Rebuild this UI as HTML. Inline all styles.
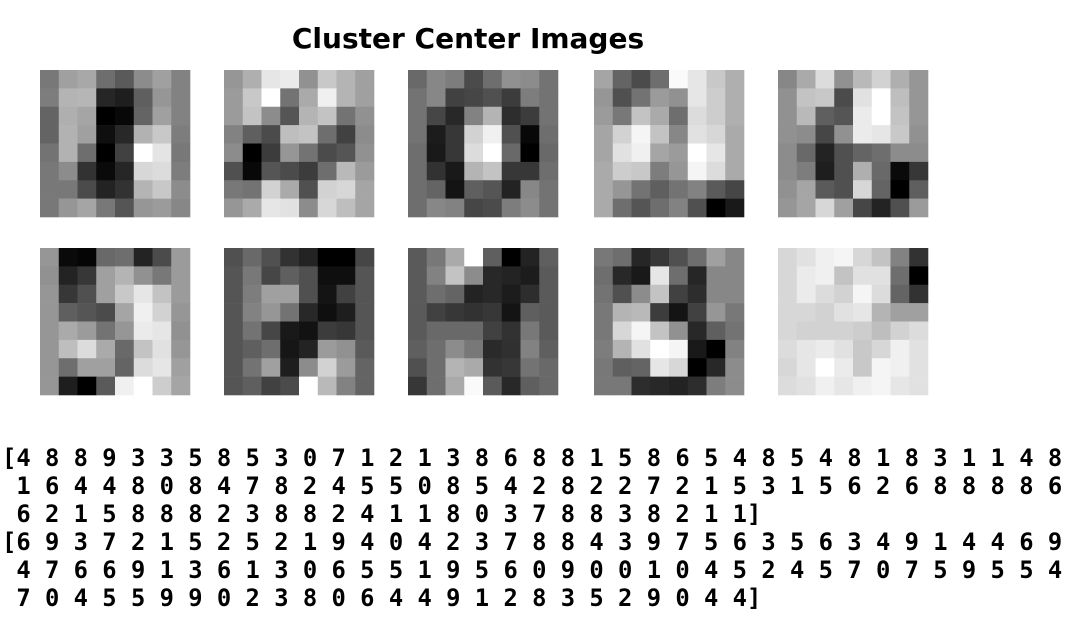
<!DOCTYPE html>
<html><head><meta charset="utf-8"><style>
html,body{margin:0;padding:0;background:#fff;}
svg{display:block;}
text.lbl{font-family:"DejaVu Sans Mono","Liberation Mono",monospace;font-weight:bold;font-size:23.8px;white-space:pre;fill:#000;}
</style></head><body>
<svg id="chart" width="1078" height="632" viewBox="0 0 1078 632">
<text x="468" y="48" text-anchor="middle" font-family="DejaVu Sans, Liberation Sans, sans-serif" font-weight="bold" font-size="28">Cluster Center Images</text>
<g id="imgs"></g>
<g id="labels"></g>
</svg>
<script>
const img0=[120,160,168,110,90,140,160,130,125,180,182,38,30,95,150,130,100,175,165,0,8,100,160,130,100,178,160,15,40,178,200,125,115,178,110,0,65,255,228,120,120,140,50,10,38,215,220,125,120,120,75,35,50,180,200,140,120,150,165,120,85,150,155,135];
const img1=[150,175,230,235,145,200,180,160,155,200,255,115,170,240,180,160,155,195,140,85,180,195,115,145,130,95,75,190,195,110,65,140,140,0,60,150,115,75,85,145,80,8,85,75,60,110,185,155,120,115,210,170,80,210,215,165,150,170,230,225,140,215,190,165];
const img2=[105,135,125,75,110,145,140,115,115,135,65,70,80,60,125,115,115,70,40,130,180,45,60,115,115,28,55,210,240,80,8,110,110,25,55,220,255,105,0,105,110,50,25,180,195,55,55,110,110,100,20,95,85,35,135,115,110,135,130,70,75,125,140,115];
const img3=[165,100,75,110,250,230,200,175,150,80,115,155,145,230,205,175,155,120,195,170,110,220,205,175,165,210,245,195,135,225,215,170,165,225,240,165,155,255,230,170,170,205,200,125,150,245,220,170,170,150,115,95,115,130,90,70,170,110,85,110,130,80,0,25];
const img4=[135,170,220,145,185,210,175,150,145,195,200,75,225,255,190,150,145,185,95,85,235,255,195,150,145,140,70,145,235,230,200,145,140,105,35,80,100,110,140,140,140,125,30,80,175,105,10,55,145,165,90,80,215,100,0,95,150,165,215,160,70,35,80,155];
const img5=[150,10,5,105,110,35,75,155,145,35,55,160,180,145,120,155,150,55,80,160,200,230,195,155,150,95,85,75,165,240,210,150,150,170,155,115,150,235,230,145,150,190,220,170,105,195,225,150,150,110,160,160,100,220,230,160,150,30,0,90,240,255,205,165];
const img6=[80,105,80,50,35,0,0,70,85,120,70,95,80,15,15,85,85,125,160,160,80,20,65,85,85,130,150,115,40,15,30,85,85,115,70,25,18,60,55,85,85,95,110,22,35,155,145,90,85,115,160,30,140,210,155,100,85,95,65,75,255,185,130,100];
const img7=[90,120,170,255,95,0,35,95,90,130,195,140,40,35,28,90,90,110,100,35,40,28,45,90,90,65,55,50,55,20,95,90,90,105,105,105,65,50,120,90,95,110,140,120,42,48,130,95,80,110,180,170,50,55,115,105,55,110,170,250,90,40,95,105];
const img8=[120,110,38,55,80,110,160,135,110,40,25,230,110,38,135,135,115,80,140,195,65,45,135,135,120,180,185,60,20,65,150,120,120,215,245,195,145,40,95,115,125,180,225,255,245,25,0,130,120,95,100,230,215,0,40,140,120,120,45,40,35,45,125,140];
const img9=[215,225,240,245,215,195,130,50,215,235,240,195,225,225,110,0,215,235,220,210,245,220,100,50,215,215,210,225,230,180,160,160,215,210,210,210,205,190,210,220,220,230,235,225,200,215,240,225,215,230,255,235,200,245,240,225,220,225,240,230,240,245,230,225];
const images=[img0,img1,img2,img3,img4,img5,img6,img7,img8,img9];
const predLine1="[4 8 8 9 3 3 5 8 5 3 0 7 1 2 1 3 8 6 8 8 1 5 8 6 5 4 8 5 4 8 1 8 3 1 1 4 8";
const predLine2=" 1 6 4 4 8 0 8 4 7 8 2 4 5 5 0 8 5 4 2 8 2 2 7 2 1 5 3 1 5 6 2 6 8 8 8 8 6";
const predLine3=" 6 2 1 5 8 8 8 2 3 8 8 2 4 1 1 8 0 3 7 8 8 3 8 2 1 1]";
const trueLine1="[6 9 3 7 2 1 5 2 5 2 1 9 4 0 4 2 3 7 8 8 4 3 9 7 5 6 3 5 6 3 4 9 1 4 4 6 9";
const trueLine2=" 4 7 6 6 9 1 3 6 1 3 0 6 5 5 1 9 5 6 0 9 0 0 1 0 4 5 2 4 5 7 0 7 5 9 5 5 4";
const trueLine3=" 7 0 4 5 5 9 9 0 2 3 8 0 6 4 4 9 1 2 8 3 5 2 9 0 4 4]";
const textLines=[predLine1,predLine2,predLine3,trueLine1,trueLine2,trueLine3];

const NS="http://www.w3.org/2000/svg";
const g=document.getElementById('imgs');
const colX=[40,224,408,594,778], rowY=[70,248];
const W=150,H=147;
images.forEach((im,k)=>{
  const ox=colX[k%5], oy=rowY[Math.floor(k/5)];
  const grp=document.createElementNS(NS,'g');
  
  
  for(let i=0;i<64;i++){
    const r=Math.floor(i/8), c=i%8, v=im[i];
    const x0=ox+c*W/8, x1=ox+(c+1)*W/8, y0=oy+r*H/8, y1=oy+(r+1)*H/8;
    const rc=document.createElementNS(NS,'rect');
    rc.setAttribute('x',x0);rc.setAttribute('y',y0);
    rc.setAttribute('width',x1-x0+0.3);rc.setAttribute('height',y1-y0+0.3);
    rc.setAttribute('fill','rgb('+v+','+v+','+v+')');
    
    
    grp.appendChild(rc);
  }
  g.appendChild(grp);
});
const lg=document.getElementById('labels');
textLines.forEach((s,i)=>{
  const t=document.createElementNS(NS,'text');
  t.setAttribute('x',2);t.setAttribute('y',466+i*28);
  t.setAttribute('class','lbl');
  
  
  t.textContent=s;
  lg.appendChild(t);
});
</script>
</body></html>
